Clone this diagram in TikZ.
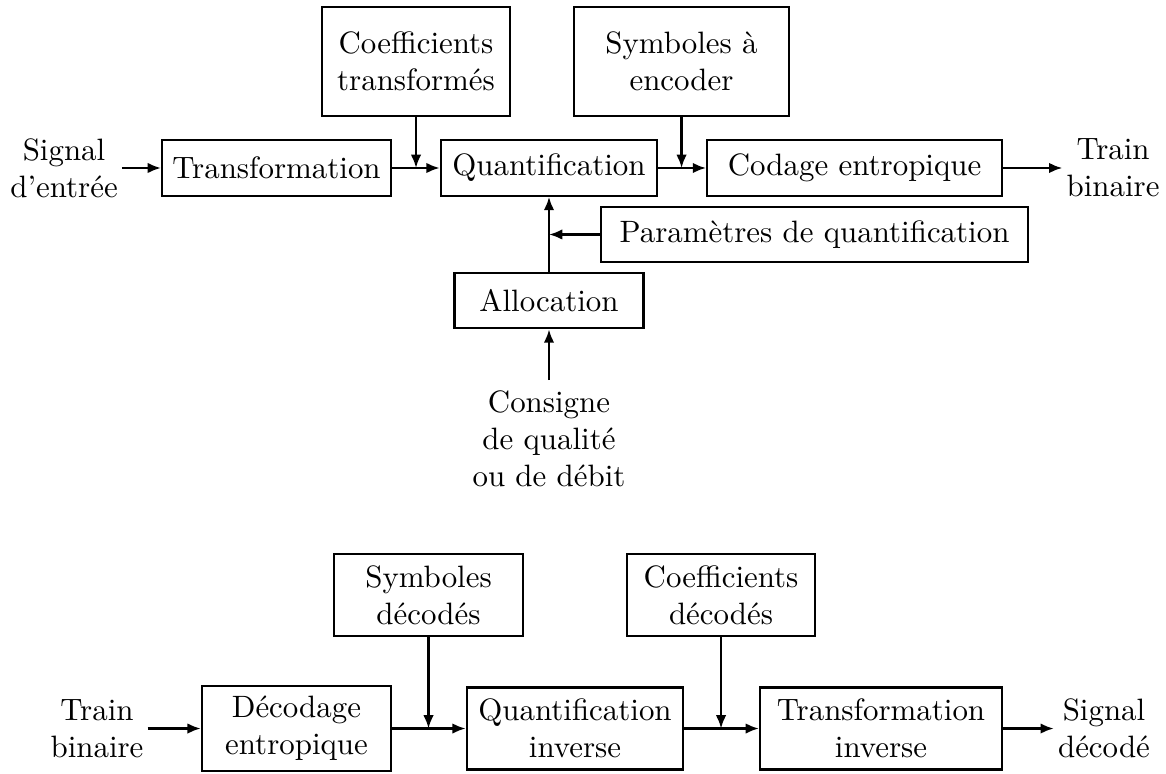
\documentclass[tikz,border=0pt]{standalone}
\usepackage{fontspec}
\usepackage{tikz}
\usetikzlibrary{arrows.meta,calc,positioning}

\begin{document}
\begin{tikzpicture}[
    line width=0.75pt,
    %
    bloc/.style={draw=black, rectangle, align=center, minimum width=2.15cm,
                 minimum height=0.63cm},
    bloc2/.style={bloc, minimum height=0.93cm},
    entree/.style={bloc, minimum height=1.24cm},
    texte/.style={align=center, inner sep=1pt},
    %
    pre/.style={-{Latex[length=4.3pt,width=3.4pt]}},
    post/.style={{Latex[length=4.3pt,width=3.4pt]}-}
    ]

    \useasboundingbox (0,0) rectangle (13.257,8.789);

    % codeur
    \node[bloc,minimum width=2.6cm]   (transf) at (3.144,6.879) {Transformation};
    \node[bloc,minimum width=2.46cm]  (quant)  at (6.242,6.879) {Quantification};
    \node[bloc,minimum width=3.35cm]  (codage) at (9.716,6.879) {Codage entropique};
    \node[entree,minimum width=2.14cm] (coef)  at (4.730,8.090) {Coefficients\\transformés};
    \node[entree,minimum width=2.44cm] (symb)  at (7.749,8.090) {Symboles à\\encoder};
    \node[bloc,minimum width=4.86cm]  (param)  at (9.261,6.123) {Paramètres de quantification};
    \node[bloc]                       (alloc)  at (6.242,5.372) {Allocation};
    \node[texte] (sigin)  at (0.728,6.879) {Signal\\d'entrée} edge[pre] (transf);
    \node[texte] (trout)  at (12.655,6.879) {Train\\binaire} edge[post] (codage);
    \node[texte,anchor=north,inner sep=3pt] (consigne) at (6.242,4.468)
        {Consigne\\de qualité\\ou de débit} edge[pre] (alloc);
    %
    \draw[pre] (transf) -- (quant);
    \draw[pre] (quant) -- (codage);
    \draw[pre] (coef) -- (coef |- transf);
    \draw[pre] (symb) -- (symb |- codage);
    \draw[pre] (alloc) -- (quant);
    \draw[pre] (param) -- (param -| quant);

    % decodeur
    \node[bloc2]                      (decod)  at (3.371,0.506) {Décodage\\entropique};
    \node[bloc2,minimum width=2.46cm] (qinv)   at (6.538,0.506) {Quantification\\inverse};
    \node[bloc2,minimum width=2.75cm] (tinv)   at (10.017,0.506) {Transformation\\inverse};
    \node[bloc2]                      (symbdec) at (4.872,2.024) {Symboles\\décodés};
    \node[bloc2,minimum width=2.14cm] (coefdec) at (8.198,2.024) {Coefficients\\décodés};
    \node[texte] (trin)   at (1.103,0.506) {Train\\binaire} edge[pre] (decod);
    \node[texte] (sigout) at (12.552,0.506) {Signal\\décodé} edge[post] (tinv);
    %
    \draw[pre] (decod) -- (qinv);
    \draw[pre] (qinv) -- (tinv);
    \draw[pre] (symbdec) -- (symbdec |- decod);
    \draw[pre] (coefdec) -- (coefdec |- qinv);
\end{tikzpicture}
\end{document}
